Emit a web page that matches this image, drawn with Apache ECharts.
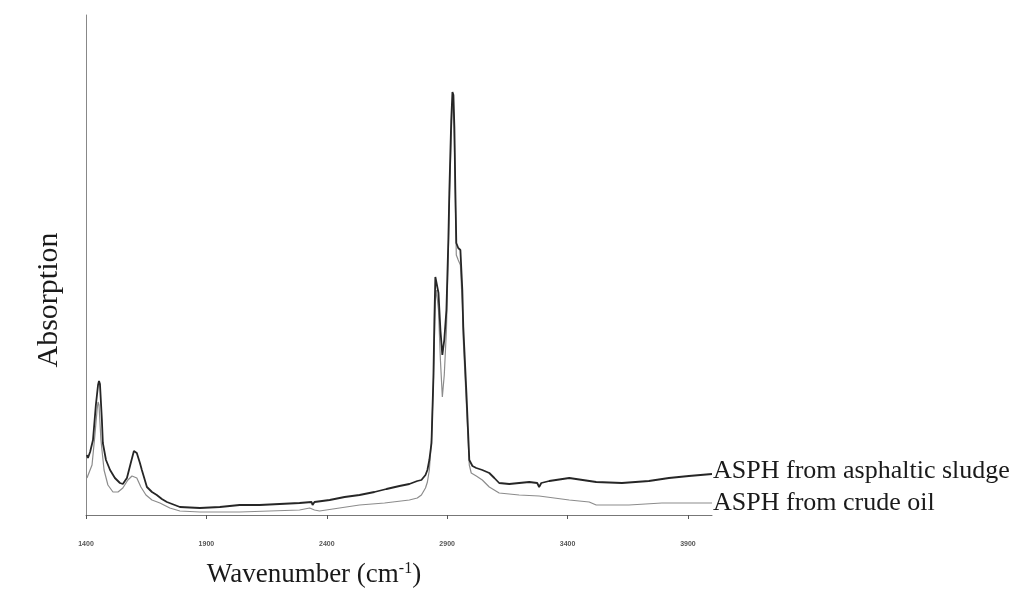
<!DOCTYPE html>
<html>
<head>
<meta charset="utf-8">
<script src="https://cdn.jsdelivr.net/npm/echarts@6/dist/echarts.min.js"></script>
<style>
  html, body { margin: 0; padding: 0; background: #fff; }
  #chart { width: 1020px; height: 608px; }
</style>
</head>
<body>
<div id="chart"></div>
<script>
// FTIR spectra of asphaltenes (absorption, arbitrary units, vs wavenumber)
const sludgeName = 'ASPH from asphaltic sludge';
const crudeName = 'ASPH from crude oil';

const sludgeWavenumber = [1404, 1408, 1417, 1429, 1441, 1450, 1454, 1458, 1466, 1470, 1483, 1500, 1520, 1541, 1553, 1570, 1587, 1599, 1603, 1611, 1624, 1632, 1653, 1674, 1694, 1715, 1736, 1790, 1873, 1956, 2038, 2121, 2204, 2287, 2337, 2341, 2349, 2412, 2474, 2536, 2598, 2648, 2702, 2743, 2776, 2793, 2810, 2818, 2826, 2835, 2843, 2847, 2851, 2855, 2864, 2872, 2880, 2888, 2897, 2905, 2909, 2917, 2922, 2926, 2930, 2934, 2938, 2946, 2955, 2963, 2967, 2980, 2992, 3005, 3021, 3046, 3075, 3096, 3116, 3158, 3199, 3241, 3274, 3282, 3291, 3324, 3407, 3519, 3626, 3738, 3821, 3904, 4000];
const sludgeAbsorption = [0.12, 0.114, 0.126, 0.15, 0.22, 0.26, 0.268, 0.262, 0.19, 0.144, 0.11, 0.09, 0.074, 0.064, 0.062, 0.074, 0.106, 0.128, 0.13, 0.124, 0.104, 0.09, 0.056, 0.046, 0.04, 0.032, 0.026, 0.016, 0.014, 0.016, 0.02, 0.02, 0.022, 0.024, 0.026, 0.02, 0.026, 0.03, 0.036, 0.04, 0.046, 0.052, 0.058, 0.062, 0.068, 0.07, 0.08, 0.09, 0.11, 0.144, 0.276, 0.39, 0.476, 0.48, 0.444, 0.37, 0.32, 0.35, 0.41, 0.55, 0.644, 0.79, 0.846, 0.84, 0.776, 0.65, 0.544, 0.534, 0.53, 0.45, 0.376, 0.244, 0.11, 0.098, 0.094, 0.09, 0.084, 0.074, 0.064, 0.062, 0.064, 0.066, 0.064, 0.056, 0.064, 0.068, 0.074, 0.066, 0.064, 0.068, 0.074, 0.078, 0.082];

const crudeWavenumber = [1404, 1412, 1425, 1437, 1446, 1450, 1454, 1462, 1475, 1491, 1512, 1533, 1553, 1574, 1591, 1599, 1611, 1628, 1649, 1674, 1707, 1748, 1790, 1873, 2038, 2163, 2287, 2329, 2337, 2349, 2370, 2453, 2536, 2640, 2743, 2776, 2793, 2810, 2818, 2826, 2835, 2843, 2851, 2855, 2864, 2872, 2880, 2888, 2897, 2905, 2909, 2917, 2922, 2926, 2930, 2934, 2938, 2946, 2955, 2963, 2967, 2980, 2992, 3000, 3021, 3046, 3075, 3116, 3199, 3282, 3407, 3490, 3519, 3655, 3792, 3892, 4000];
const crudeAbsorption = [0.074, 0.07, 0.1, 0.16, 0.21, 0.226, 0.22, 0.15, 0.09, 0.06, 0.046, 0.046, 0.054, 0.07, 0.078, 0.08, 0.074, 0.056, 0.04, 0.03, 0.024, 0.014, 0.008, 0.006, 0.006, 0.008, 0.01, 0.014, 0.016, 0.01, 0.008, 0.014, 0.02, 0.024, 0.03, 0.034, 0.04, 0.054, 0.066, 0.09, 0.15, 0.27, 0.43, 0.45, 0.41, 0.31, 0.236, 0.28, 0.37, 0.53, 0.62, 0.76, 0.824, 0.814, 0.75, 0.63, 0.52, 0.51, 0.5, 0.42, 0.35, 0.22, 0.1, 0.084, 0.078, 0.07, 0.056, 0.044, 0.04, 0.038, 0.03, 0.026, 0.02, 0.02, 0.024, 0.024, 0.024];

const xMin = 1400, xMax = 4000, xStep = 500;

const pairs = (xs, ys) => xs.map((x, i) => [x, ys[i]]);
const serif = '"Liberation Serif", "DejaVu Serif", serif';

const chart = echarts.init(document.getElementById('chart'), null, { renderer: 'canvas' });
chart.setOption({
  animation: false,
  backgroundColor: '#ffffff',
  grid: { left: 86, right: 308, top: 15, bottom: 93, containLabel: false },
  xAxis: {
    type: 'value',
    min: xMin,
    max: xMax,
    interval: xStep,
    name: 'Wavenumber (cm{sup|-1})',
    nameLocation: 'middle',
    nameGap: 46,
    nameTextStyle: {
      fontFamily: serif, fontSize: 27, color: '#1a1a1a',
      padding: [0, 170, 0, 0],
      rich: { sup: { fontFamily: serif, fontSize: 16, color: '#1a1a1a', verticalAlign: 'top', padding: [0, 0, 12, 0] } }
    },
    axisLine: { show: true, lineStyle: { color: '#777', width: 1 } },
    axisTick: { show: true, length: 4, lineStyle: { color: '#555' } },
    axisLabel: {
      show: true, margin: 26, fontSize: 7, fontWeight: 'bold',
      fontFamily: '"Liberation Sans Narrow", "Liberation Sans", sans-serif', color: '#555',
      showMaxLabel: false,
      formatter: (v) => String(v)
    },
    splitLine: { show: false }
  },
  yAxis: {
    type: 'value',
    min: 0,
    max: 1,
    name: 'Absorption',
    nameLocation: 'middle',
    nameGap: 22,
    nameRotate: 90,
    nameTextStyle: { fontFamily: serif, fontSize: 30, color: '#1a1a1a', padding: [0, 70, 0, 0] },
    axisLine: { show: true, lineStyle: { color: '#888', width: 1 } },
    axisTick: { show: false },
    axisLabel: { show: false },
    splitLine: { show: false }
  },
  series: [
    {
      name: crudeName,
      type: 'line',
      data: pairs(crudeWavenumber, crudeAbsorption),
      showSymbol: false,
      lineStyle: { color: '#8c8c8c', width: 1.2 },
      z: 2,
      endLabel: {
        show: true, formatter: '{a}', distance: 1,
        fontFamily: serif, fontSize: 26, color: '#1a1a1a'
      }
    },
    {
      name: sludgeName,
      type: 'line',
      data: pairs(sludgeWavenumber, sludgeAbsorption),
      showSymbol: false,
      lineStyle: { color: '#262626', width: 1.8 },
      z: 3,
      endLabel: {
        show: true, formatter: '{a}', distance: 1, offset: [0, -3],
        fontFamily: serif, fontSize: 26, color: '#1a1a1a'
      }
    }
  ]
});
</script>
</body>
</html>
